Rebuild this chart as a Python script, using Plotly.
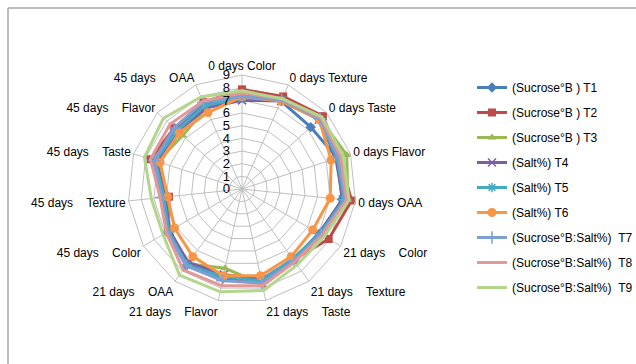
import plotly.graph_objects as go

NB = "\u00a0"
GAP = NB * 4
categories = ["0 days Color", "0 days Texture", "0 days Taste", "0 days Flavor", "0 days OAA",
              "21 days" + GAP + "Color", "21 days" + GAP + "Texture", "21 days" + GAP + "Taste",
              "21 days" + GAP + "Flavor", "21 days" + GAP + "OAA",
              "45 days" + GAP + "Color", "45 days" + GAP + "Texture", "45 days" + GAP + "Taste",
              "45 days" + GAP + "Flavor", "45 days" + GAP + "OAA"]

series_names = ["(Sucrose°B ) T1", "(Sucrose°B ) T2", "(Sucrose°B ) T3",
                "(Salt%) T4", "(Salt%) T5", "(Salt%) T6",
                "(Sucrose°B:Salt%)" + NB*2 + "T7", "(Sucrose°B:Salt%)" + NB*2 + "T8",
                "(Sucrose°B:Salt%)" + NB*2 + "T9"]

t1 = [7.4, 7.6, 7.3, 7.9, 7.95, 7.05, 6.9, 7.5, 7.2, 7.5, 6.8, 6.3, 7.2, 7.0, 7.3]
t2 = [7.85, 8.0, 8.6, 8.1, 8.7, 7.9, 6.9, 7.6, 7.1, 7.3, 6.7, 5.8, 7.6, 7.2, 7.5]
t3 = [7.6, 7.7, 8.3, 8.7, 8.4, 7.3, 7.0, 7.7, 6.4, 7.3, 6.6, 6.0, 7.0, 6.3, 7.0]
t4 = [7.0, 7.6, 8.2, 7.8, 8.0, 7.0, 6.9, 7.3, 6.9, 7.2, 6.6, 6.1, 7.1, 6.8, 7.0]
t5 = [7.2, 7.7, 8.2, 7.9, 8.1, 7.1, 6.8, 7.4, 7.1, 7.4, 6.7, 6.2, 7.2, 6.9, 7.2]
t6 = [7.3, 7.6, 8.2, 7.4, 7.0, 6.45, 6.6, 7.0, 7.0, 6.6, 6.15, 5.9, 6.8, 6.65, 6.6]
t7 = [7.3, 7.7, 8.3, 8.0, 8.2, 7.2, 7.0, 7.6, 7.4, 7.5, 6.8, 6.4, 7.3, 7.2, 7.5]
t8 = [7.6, 7.8, 8.4, 8.2, 8.3, 7.3, 7.1, 7.8, 7.8, 7.9, 6.9, 6.5, 7.6, 7.65, 7.6]
t9 = [7.75, 7.8, 8.5, 8.4, 8.5, 7.5, 7.4, 8.2, 8.3, 8.4, 7.2, 7.2, 8.1, 8.35, 7.95]

values = [t1, t2, t3, t4, t5, t6, t7, t8, t9]
colors = ["#4A7EBB", "#BE4B48", "#98B954", "#7D60A0", "#46AAC5", "#F79646",
          "#7F9FD3", "#E29896", "#B3D58C"]
symbols = ["diamond", "square", "triangle-up", "x-thin", "asterisk", "circle",
           "cross-thin", None, None]
msizes = [8, 8, 8, 8, 8, 9, 9, 0, 0]

fig = go.Figure()
for name, v, c, s, ms in zip(series_names, values, colors, symbols, msizes):
    r = v + [v[0]]
    th = categories + [categories[0]]
    if s is None:
        mode = "lines"
        marker = None
    else:
        mode = "lines+markers"
        if s in ("x-thin", "asterisk", "cross-thin"):
            marker = dict(symbol=s, size=ms, color=c, line=dict(color=c, width=1.5))
        else:
            marker = dict(symbol=s, size=ms, color=c)
    fig.add_trace(go.Scatterpolar(r=r, theta=th, name=name, mode=mode,
                                  line=dict(color=c, width=3),
                                  marker=marker, legendgroup=name))

W, H = 636, 364
fig.update_layout(
    width=W, height=H,
    margin=dict(l=0, r=0, t=0, b=0, autoexpand=False),
    paper_bgcolor="white",
    font=dict(family="Liberation Sans, Arial, sans-serif", size=12, color="#000000"),
    polar=dict(
        domain=dict(x=[128/W, 356/W], y=[(H-303)/H, (H-75)/H]),
        bgcolor="white",
        gridshape="linear",
        angularaxis=dict(rotation=90, direction="clockwise", categoryorder="array",
                         categoryarray=categories,
                         gridcolor="#BFBFBF", linecolor="#BFBFBF", showline=True,
                         ticks="", tickfont=dict(size=12)),
        radialaxis=dict(range=[0, 9], dtick=1, angle=90, tickangle=90,
                        side="counterclockwise",
                        gridcolor="#BFBFBF", showline=False,
                        ticks="outside", ticklen=7, tickcolor="rgba(0,0,0,0)",
                        tickfont=dict(size=13)),
    ),
    legend=dict(x=472/W, y=1-73/H, xanchor="left", yanchor="top",
                font=dict(size=12),
                tracegroupgap=6, itemwidth=30,
                bgcolor="rgba(0,0,0,0)"),
    shapes=[
        dict(type="line", xref="paper", yref="paper", x0=8/W, x1=1, y0=1-8/H, y1=1-8/H,
             line=dict(color="#A6A6A6", width=1.5)),
        dict(type="line", xref="paper", yref="paper", x0=8/W, x1=8/W, y0=0, y1=1-8/H,
             line=dict(color="#A6A6A6", width=1.5)),
    ],
)

fig.write_html("out.html", config={"displayModeBar": False},
               post_script="document.body.style.margin='0';")
